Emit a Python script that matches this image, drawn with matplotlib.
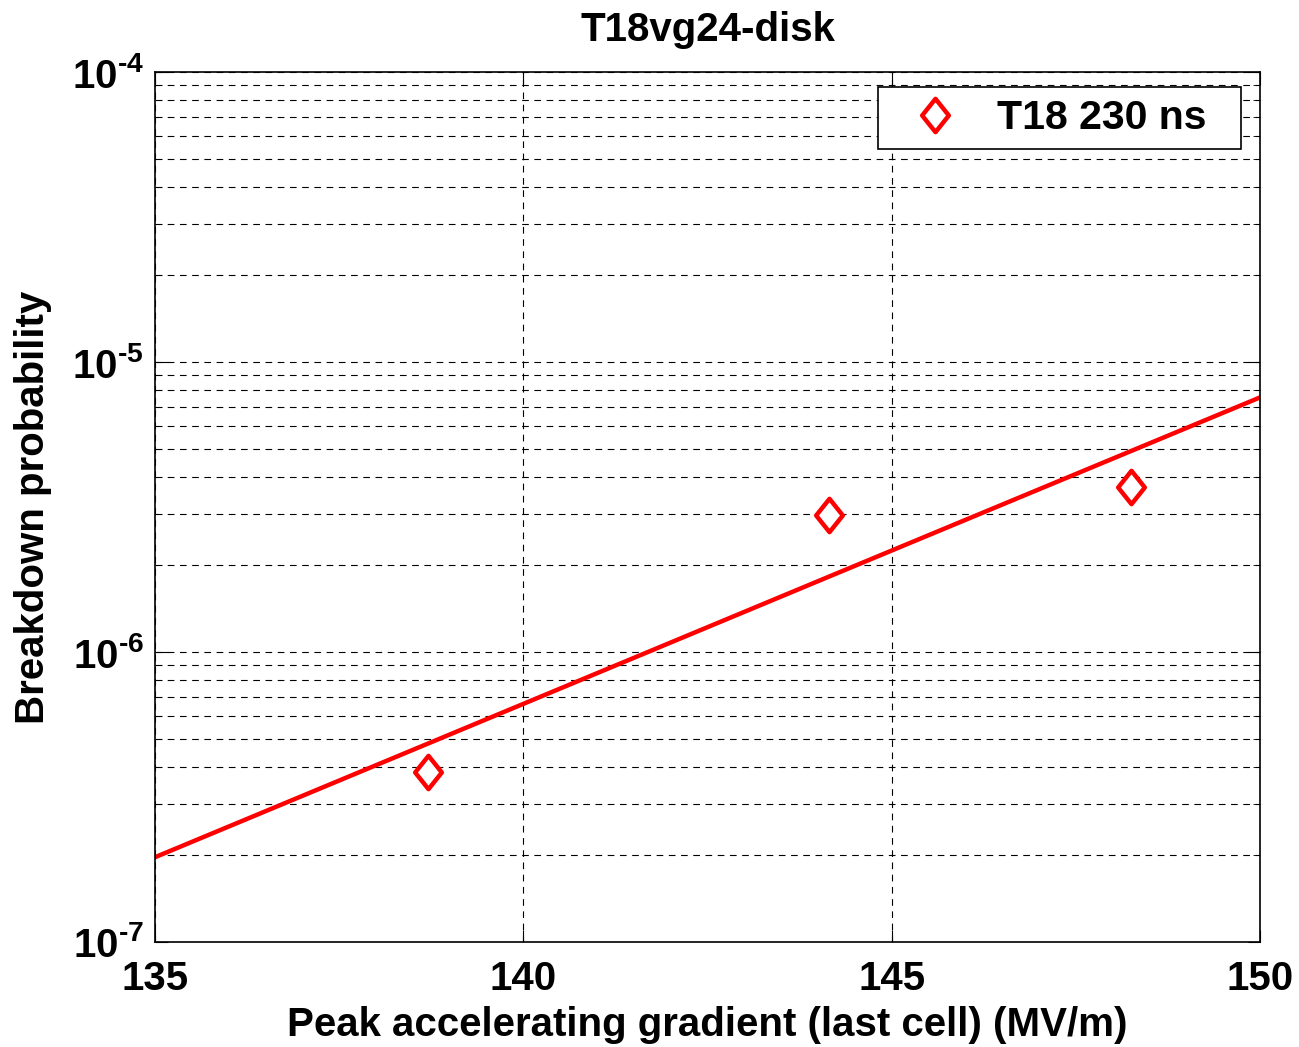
import numpy as np
import matplotlib.pyplot as plt
from matplotlib.path import Path
from matplotlib.ticker import LogLocator, FixedLocator

plt.rcParams['font.family'] = 'Liberation Sans'
plt.rcParams['font.weight'] = 'bold'
plt.rcParams['mathtext.fontset'] = 'custom'
plt.rcParams['mathtext.rm'] = 'Liberation Sans:bold'
plt.rcParams['mathtext.bf'] = 'Liberation Sans:bold'
plt.rcParams['axes.unicode_minus'] = False

# measured breakdown rates
gradient = [138.7, 144.15, 148.25]
bdr = [3.85e-7, 2.96e-6, 3.7e-6]

# fitted curve
fit_x = [135.0, 144.15, 150.0]
fit_y = [1.96e-7, 1.82e-6, 7.55e-6]

xticks = [135, 140, 145, 150]
yticks = [1e-7, 1e-6, 1e-5, 1e-4]
ytick_labels = [r'$\mathregular{10^{\text{-7}}}$', r'$\mathregular{10^{\text{-6}}}$',
                r'$\mathregular{10^{\text{-5}}}$', r'$\mathregular{10^{\text{-4}}}$']

diamond = Path([(0, 1), (0.8, 0), (0, -1), (-0.8, 0), (0, 1)],
               [Path.MOVETO, Path.LINETO, Path.LINETO, Path.LINETO, Path.CLOSEPOLY])

fig = plt.figure(figsize=(12.99, 10.47), dpi=100)
ax = fig.add_axes([0.1193, 0.1003, 0.8507, 0.8309])

ax.plot(gradient, bdr, linestyle='none', marker=diamond, markersize=24,
        markerfacecolor='white', markeredgecolor='red', markeredgewidth=3.2,
        label='T18 230 ns  ', zorder=3)
ax.plot(fit_x, fit_y, color='red', linewidth=3.2, zorder=2)

ax.set_yscale('log')
ax.set_xlim(135, 150)
ax.set_ylim(1e-7, 1e-4)
ax.xaxis.set_major_locator(FixedLocator(xticks))
ax.yaxis.set_major_locator(FixedLocator(yticks))
ax.set_yticklabels(ytick_labels)
ax.yaxis.set_minor_locator(LogLocator(base=10, subs=np.arange(2, 10)))
ax.yaxis.set_minor_formatter(plt.NullFormatter())

ax.grid(True, which='both', color='black', linestyle=(0, (6, 5)), linewidth=0.8)
ax.tick_params(which='both', direction='in', top=True, right=True, labelsize=29)
ax.tick_params(axis='x', pad=13)
ax.tick_params(axis='y', pad=8)
ax.tick_params(which='major', length=9)
ax.tick_params(which='minor', length=5)
for sp in ax.spines.values():
    sp.set_linewidth(1.2)

ax.set_title('T18vg24-disk', fontsize=29, fontweight='bold', pad=22)
ax.set_xlabel('Peak accelerating gradient (last cell) (MV/m)', fontsize=29, fontweight='bold', labelpad=6)
ax.set_ylabel('Breakdown probability', fontsize=29, fontweight='bold', labelpad=14)

leg = ax.legend(loc='upper right', fontsize=29.5, fancybox=False, framealpha=1,
                edgecolor='black', handlelength=2.2, handletextpad=0.4,
                borderpad=0.3, borderaxespad=0, bbox_to_anchor=(0.983, 0.983))
leg.get_frame().set_linewidth(1.2)

fig.savefig('out.png', dpi=100)
